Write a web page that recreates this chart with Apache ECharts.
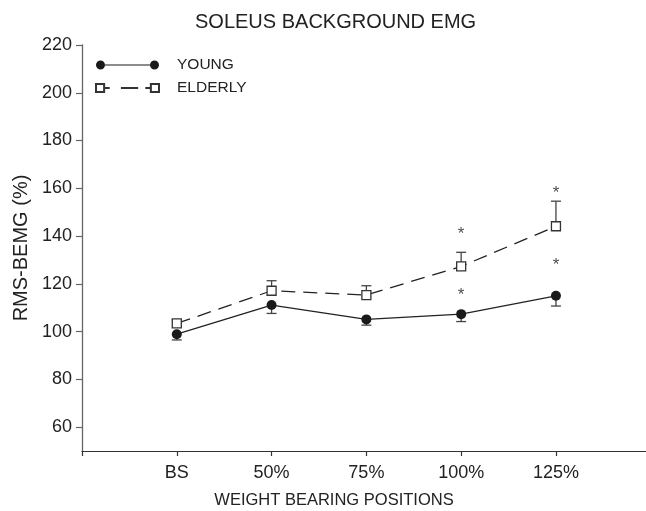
<!DOCTYPE html>
<html>
<head>
<meta charset="utf-8">
<script src="https://cdn.jsdelivr.net/npm/echarts@6/dist/echarts.min.js"></script>
<style>
html,body{margin:0;padding:0;background:#fff;}
#chart1{width:646px;height:511px;}
</style>
</head>
<body>
<div id="chart1"></div>
<script>
// weight bearing positions
var categories = ['BS', '50%', '75%', '100%', '125%'];
var xPositions = [1, 2, 3, 4, 5];
// RMS-BEMG (%) means and error bars
var young = [98.9, 111.1, 105.1, 107.3, 115.0];
var youngErr = [2.4, 3.5, 2.4, 3.1, 4.3];
var elderly = [103.4, 117.1, 115.3, 127.3, 144.1];
var elderlyErr = [1.6, 4.2, 3.9, 5.9, 10.5];
// significance stars (y position)
var youngStar = [null, null, null, 116.8, 129.4];
var elderlyStar = [null, null, null, 142.3, 159.5];
var yTicks = [60, 80, 100, 120, 140, 160, 180, 200, 220];

var font = 'Liberation Sans, Arial, sans-serif';
var ink = '#222';

function pairs(vals) {
    var res = [];
    for (var i = 0; i < vals.length; i++) {
        res.push([xPositions[i], vals[i]]);
    }
    return res;
}

function errData(vals, errs, dir) {
    var res = [];
    for (var i = 0; i < vals.length; i++) {
        res.push([xPositions[i], vals[i], vals[i] + dir * errs[i]]);
    }
    return res;
}

function starData(vals) {
    var res = [];
    for (var i = 0; i < vals.length; i++) {
        if (vals[i] != null) res.push([xPositions[i], vals[i]]);
    }
    return res;
}

function renderErr(params, api) {
    var p0 = api.coord([api.value(0), api.value(1)]);
    var p1 = api.coord([api.value(0), api.value(2)]);
    var half = 5;
    var st = {stroke: '#444', lineWidth: 1.3};
    return {
        type: 'group',
        children: [
            {type: 'line', shape: {x1: p0[0], y1: p0[1], x2: p1[0], y2: p1[1]}, style: st},
            {type: 'line', shape: {x1: p1[0] - half, y1: p1[1], x2: p1[0] + half, y2: p1[1]}, style: st}
        ]
    };
}

// legend icons: two markers joined by a line
var youngIcon = 'path://M0,4.5A4.5,4.5 0 1,0 9,4.5A4.5,4.5 0 1,0 0,4.5Z' +
    'M9,3.9L54,3.9L54,5.1L9,5.1Z' +
    'M54,4.5A4.5,4.5 0 1,0 63,4.5A4.5,4.5 0 1,0 54,4.5Z';
var elderlyIcon = 'path://M0.5,0.5L8.5,0.5L8.5,8.5L0.5,8.5Z' +
    'M8.5,4.5L14,4.5M25,4.5L42,4.5M49,4.5L54.5,4.5' +
    'M54.5,0.5L62.5,0.5L62.5,8.5L54.5,8.5Z';

var Chart1 = echarts.init(document.getElementById('chart1'));
var option1 = {
    backgroundColor: '#fff',
    animation: false,
    title: {
        text: 'SOLEUS BACKGROUND EMG',
        left: 195,
        top: 12,
        padding: 0,
        textStyle: {fontFamily: font, fontSize: 20, fontWeight: 'normal', color: ink}
    },
    legend: {
        orient: 'vertical',
        left: 95,
        top: 57,
        padding: 0,
        itemWidth: 63,
        itemHeight: 9,
        itemGap: 7,
        selectedMode: false,
        textStyle: {fontFamily: font, fontSize: 15.5, color: ink, padding: [0, 0, 0, 13]},
        data: [
            {name: 'YOUNG', icon: youngIcon},
            {name: 'ELDERLY', icon: elderlyIcon}
        ]
    },
    grid: {left: 82, right: 0, top: 45, bottom: 60, containLabel: false, outerBoundsMode: 'none'},
    xAxis: {
        type: 'value',
        min: 0,
        max: 5.95,
        name: 'WEIGHT BEARING POSITIONS',
        nameLocation: 'middle',
        nameGap: 41,
        nameTextStyle: {fontFamily: font, fontSize: 16.5, color: ink, padding: [0, 60, 0, 0]},
        splitLine: {show: false},
        axisLine: {lineStyle: {color: '#333', width: 1.2}},
        axisTick: {length: 5, lineStyle: {color: '#333', width: 1.2}, customValues: [0, 1, 2, 3, 4, 5]},
        axisLabel: {
            fontFamily: font, fontSize: 18, color: ink, margin: 13,
            customValues: xPositions,
            formatter: function (v) { return categories[Math.round(v) - 1]; }
        }
    },
    yAxis: {
        type: 'value',
        min: 50,
        max: 220,
        name: 'RMS-BEMG (%)',
        nameLocation: 'middle',
        nameGap: 50,
        nameTextStyle: {fontFamily: font, fontSize: 20, color: ink},
        splitLine: {show: false},
        axisLine: {show: true, lineStyle: {color: '#666', width: 1.3}},
        axisTick: {show: true, length: 6, lineStyle: {color: '#666', width: 1.2}, customValues: yTicks},
        axisLabel: {fontFamily: font, fontSize: 18, color: ink, margin: 10, customValues: yTicks}
    },
    series: [
        {
            name: 'YOUNG',
            type: 'line',
            data: pairs(young),
            symbol: 'circle',
            symbolSize: 10,
            z: 5,
            lineStyle: {color: '#222', width: 1.3},
            itemStyle: {color: '#1a1a1a', borderWidth: 0}
        },
        {
            name: 'ELDERLY',
            type: 'line',
            data: pairs(elderly),
            symbol: 'rect',
            symbolSize: 9,
            z: 5,
            lineStyle: {color: '#222', width: 1.3, type: [14, 8]},
            itemStyle: {color: '#fff', borderColor: '#333', borderWidth: 1.3}
        },
        {
            type: 'custom',
            renderItem: renderErr,
            data: errData(young, youngErr, -1),
            z: 2
        },
        {
            type: 'custom',
            renderItem: renderErr,
            data: errData(elderly, elderlyErr, 1),
            z: 2
        },
        {
            type: 'scatter',
            data: starData(youngStar).concat(starData(elderlyStar)),
            symbolSize: 0,
            label: {
                show: true, position: 'inside', formatter: '*',
                fontFamily: font, fontSize: 17, color: ink, offset: [0, 4]
            }
        }
    ]
};
Chart1.setOption(option1);

window.onresize = function () {
    Chart1.resize();
};
</script>
</body>
</html>
